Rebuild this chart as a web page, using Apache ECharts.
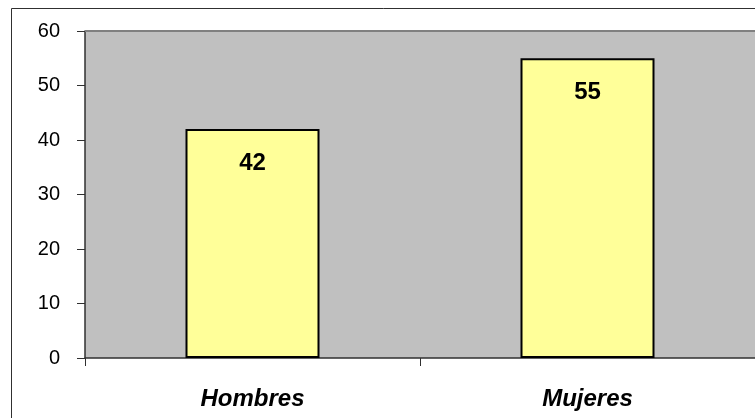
<!DOCTYPE html>
<html>
<head>
<meta charset="utf-8">
<script src="https://cdn.jsdelivr.net/npm/echarts@6/dist/echarts.min.js"></script>
<style>
html,body{margin:0;padding:0;background:#fff;}
#c{width:755px;height:418px;}
</style>
</head>
<body>
<div id="c"></div>
<script>
var categories = ['Hombres', 'Mujeres'];
var values = [42, 55];
var yTicks = [0, 10, 20, 30, 40, 50, 60];

var chart = echarts.init(document.getElementById('c'), null, {renderer: 'canvas'});
chart.setOption({
  animation: false,
  backgroundColor: '#ffffff',
  graphic: [{
    type: 'rect', z: -10,
    shape: {x: 11.5, y: 8.5, width: 760, height: 420},
    style: {fill: 'none', stroke: '#303030', lineWidth: 1}
  }, {
    type: 'line', z: 10,
    shape: {x1: 85, y1: 31, x2: 760, y2: 31},
    style: {stroke: '#808080', lineWidth: 2}
  }],
  grid: {
    left: 85, top: 31, width: 674, bottom: 60,
    show: true, backgroundColor: '#c0c0c0', borderWidth: 0
  },
  xAxis: {
    type: 'category',
    data: categories,
    axisLine: {lineStyle: {color: '#303030', width: 1.5}},
    axisTick: {show: true, length: 8, lineStyle: {color: '#303030'}},
    axisLabel: {
      margin: 29, fontFamily: 'Liberation Sans', fontSize: 24,
      fontWeight: 'bold', fontStyle: 'italic', color: '#000'
    },
    splitLine: {show: false}
  },
  yAxis: {
    type: 'value', min: yTicks[0], max: yTicks[yTicks.length - 1], interval: 10,
    axisLine: {show: true, lineStyle: {color: '#303030', width: 1.5}},
    axisTick: {show: true, length: 8, lineStyle: {color: '#303030'}},
    axisLabel: {margin: 25, fontFamily: 'Liberation Sans', fontSize: 20, color: '#000'},
    splitLine: {show: false}
  },
  series: [{
    type: 'bar',
    data: values,
    barWidth: '40%',
    itemStyle: {color: '#ffff99', borderColor: '#000', borderWidth: 2},
    label: {
      show: true, position: 'insideTop', distance: 22,
      fontFamily: 'Liberation Sans', fontSize: 24, fontWeight: 'bold', color: '#000'
    }
  }]
});
</script>
</body>
</html>
